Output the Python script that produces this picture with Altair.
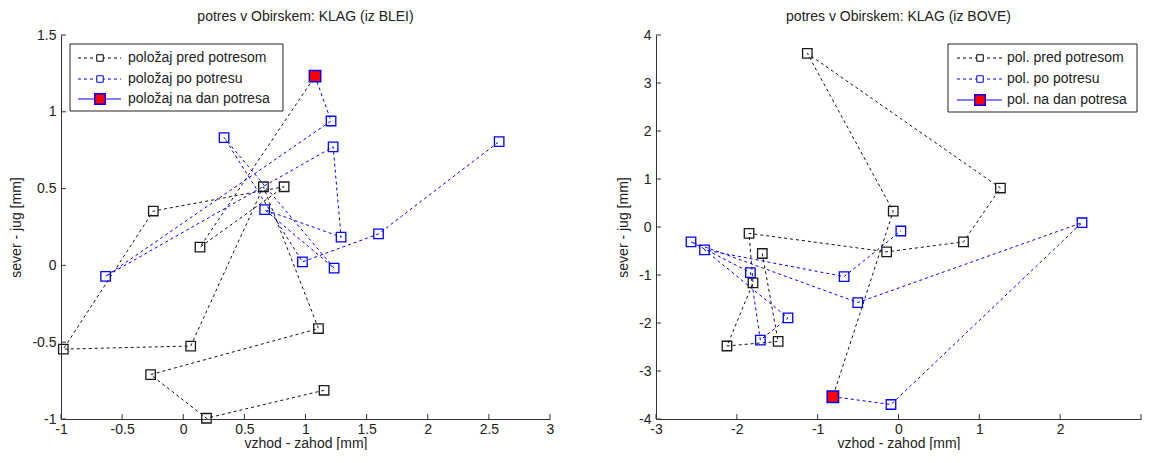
import altair as alt
import pandas as pd

FONT = "Liberation Sans"
TXT = "#222222"

# ---------------- left panel (iz BLEI) ----------------
L_title = "potres v Obirskem: KLAG (iz BLEI)"
L_black_x = [1.152, 0.190, -0.267, 1.106, 0.656, 0.061, -0.981, -0.245, 0.825, 0.137]
L_black_y = [-0.813, -0.995, -0.711, -0.411, 0.512, -0.525, -0.545, 0.354, 0.512, 0.119]
L_red_x = 1.078
L_red_y = 1.232
L_blue_x = [1.209, -0.635, 1.226, 1.291, 0.666, 1.234, 0.334, 0.975, 1.597, 2.584]
L_blue_y = [0.940, -0.071, 0.772, 0.184, 0.363, -0.018, 0.832, 0.023, 0.205, 0.806]
L_xticks = [-1, -0.5, 0, 0.5, 1, 1.5, 2, 2.5, 3]
L_yticks = [-1, -0.5, 0, 0.5, 1, 1.5]
L_legend = ["položaj pred potresom", "položaj po potresu", "položaj na dan potresa"]

# ---------------- right panel (iz BOVE) ----------------
R_title = "potres v Obirskem: KLAG (iz BOVE)"
R_black_x = [-1.685, -1.489, -2.122, -1.800, -1.849, -0.147, 0.804, 1.261, -1.128, -0.065]
R_black_y = [-0.552, -2.384, -2.479, -1.165, -0.132, -0.517, -0.310, 0.812, 3.616, 0.331]
R_red_x = -0.812
R_red_y = -3.535
R_blue_x = [-0.093, 2.270, -0.504, -2.567, -1.832, -1.709, -1.367, -2.400, -0.673, 0.029]
R_blue_y = [-3.698, 0.089, -1.574, -0.310, -0.950, -2.355, -1.895, -0.475, -1.033, -0.083]
R_xticks = [-3, -2, -1, 0, 1, 2, 3]
R_yticks = [-4, -3, -2, -1, 0, 1, 2, 3, 4]
R_legend = ["pol. pred potresom", "pol. po potresu", "pol. na dan potresa"]

XLABEL = "vzhod - zahod [mm]"
YLABEL = "sever - jug [mm]"


def legend_layers(box, rows, line_x, sq_x, text_x, labels):
    one = pd.DataFrame({"k": [0]})
    layers = [
        alt.Chart(one).mark_rect(fill="white", stroke="#222222", strokeWidth=1).encode(
            x=alt.value(box[0]), x2=alt.value(box[1]), y=alt.value(box[2]), y2=alt.value(box[3]))
    ]
    styles = [
        dict(color="black", dash=[3, 3], fill=None, stroke="black", size=42),
        dict(color="#0000ff", dash=[3, 3], fill=None, stroke="#0000ff", size=42),
        dict(color="#0000ff", dash=[1, 0], fill="#ff0000", stroke="#0000ff", size=110),
    ]
    for ry, lab, st in zip(rows, labels, styles):
        layers.append(
            alt.Chart(one).mark_rule(color=st["color"], strokeWidth=1, strokeDash=st["dash"]).encode(
                x=alt.value(line_x[0]), x2=alt.value(line_x[1]), y=alt.value(ry)))
        if st["fill"] is None:
            pm = alt.Chart(one).mark_point(shape="square", size=st["size"], filled=False,
                                           color=st["stroke"], strokeWidth=1, opacity=1)
        else:
            pm = alt.Chart(one).mark_point(shape="square", size=st["size"], filled=True,
                                           fill=st["fill"], stroke=st["stroke"], strokeWidth=1.5,
                                           opacity=1, fillOpacity=1)
        pm_bg = alt.Chart(one).mark_point(shape="square", size=st["size"], filled=True,
                                          fill="white", strokeWidth=0, opacity=1)
        layers.append(pm_bg.encode(x=alt.value(sq_x), y=alt.value(ry)))
        layers.append(pm.encode(x=alt.value(sq_x), y=alt.value(ry)))
        layers.append(
            alt.Chart(one).mark_text(align="left", baseline="middle", font=FONT, fontSize=14,
                                     color=TXT).encode(
                x=alt.value(text_x), y=alt.value(ry), text=alt.value(lab)))
    return layers


def panel(title, bx, by, rx, ry, ux, uy, xdom, ydom, xticks, yticks, w, h, legend, hide_last_x=False):
    black = pd.DataFrame({"x": bx + [rx], "y": by + [ry], "i": list(range(len(bx) + 1))})
    blue = pd.DataFrame({"x": [rx] + ux, "y": [ry] + uy, "i": list(range(len(ux) + 1))})
    red = pd.DataFrame({"x": [rx], "y": [ry]})
    xs = alt.Scale(domain=xdom, nice=False, zero=False)
    ys = alt.Scale(domain=ydom, nice=False, zero=False)
    common = dict(grid=False, ticks=False, domainColor="#333333", domainWidth=1,
                  labelColor=TXT, titleColor=TXT, labelFont=FONT, titleFont=FONT,
                  labelFontSize=14, titleFontSize=14, titleFontWeight="normal",
                  labelFlush=False, labelOverlap=False)
    xexpr = "datum.value + ''"
    if hide_last_x:
        xexpr = "datum.value >= %s ? '' : datum.value + ''" % xdom[1]
    xax = alt.Axis(values=xticks, title=XLABEL, labelPadding=3, titlePadding=0,
                   labelExpr=xexpr, **common)
    yax = alt.Axis(values=yticks, title=YLABEL, labelPadding=5, titlePadding=8,
                   labelExpr="datum.value + ''", **common)

    base_black = alt.Chart(black).encode(
        x=alt.X("x:Q", scale=xs, axis=xax), y=alt.Y("y:Q", scale=ys, axis=yax), order="i:Q")
    bl_line = base_black.mark_line(color="#111111", strokeWidth=1, strokeDash=[3, 3])
    bl_pts = alt.Chart(black.iloc[:-1]).mark_point(shape="square", size=90, filled=False,
                                                   color="#1a1a1a", strokeWidth=1.3, opacity=1).encode(
        x=alt.X("x:Q", scale=xs), y=alt.Y("y:Q", scale=ys))
    bu_line = alt.Chart(blue).mark_line(color="#0000ff", strokeWidth=1, strokeDash=[3, 3]).encode(
        x=alt.X("x:Q", scale=xs), y=alt.Y("y:Q", scale=ys), order="i:Q")
    bu_pts = alt.Chart(blue.iloc[1:]).mark_point(shape="square", size=90, filled=False,
                                                 color="#0000ff", strokeWidth=1.3, opacity=1).encode(
        x=alt.X("x:Q", scale=xs), y=alt.Y("y:Q", scale=ys))
    red_pt = alt.Chart(red).mark_point(shape="square", size=130, filled=True, fill="#ff0000",
                                       stroke="#0000ff", strokeWidth=1.5, opacity=1,
                                       fillOpacity=1).encode(
        x=alt.X("x:Q", scale=xs), y=alt.Y("y:Q", scale=ys))

    xt = alt.Chart(pd.DataFrame({"x": xticks})).mark_rule(color="#333333", strokeWidth=1).encode(
        x=alt.X("x:Q", scale=xs), y=alt.value(h), y2=alt.value(h - 5))
    yt = alt.Chart(pd.DataFrame({"y": yticks})).mark_rule(color="#333333", strokeWidth=1).encode(
        y=alt.Y("y:Q", scale=ys), x=alt.value(0), x2=alt.value(5))

    layers = [bl_line, bu_line, bl_pts, bu_pts, red_pt, xt, yt] + legend
    return alt.layer(*layers).properties(
        width=w, height=h,
        title=alt.TitleParams(title, font=FONT, fontSize=14, fontWeight="normal", color=TXT,
                              offset=4, anchor="middle"))


H = 384
left = panel(L_title, L_black_x, L_black_y, L_red_x, L_red_y, L_blue_x, L_blue_y,
             [-1, 3], [-1, 1.5], L_xticks, L_yticks, 489, H,
             legend_layers((9, 222, 9, 76), (23, 44, 64), (17, 60), 39, 67, L_legend))
right = panel(R_title, R_black_x, R_black_y, R_red_x, R_red_y, R_blue_x, R_blue_y,
              [-3, 3], [-4, 4], R_xticks, R_yticks, 485, H,
              legend_layers((292, 481, 9, 77), (23, 44, 65), (301, 346), 324, 351, R_legend),
              hide_last_x=True)

chart = alt.hconcat(left, right, spacing=62).configure_view(stroke=None).properties(
    padding={"left": 1, "top": 2, "right": 0, "bottom": 0})

chart.save("out.html", embed_options={"renderer": "svg", "actions": False})
